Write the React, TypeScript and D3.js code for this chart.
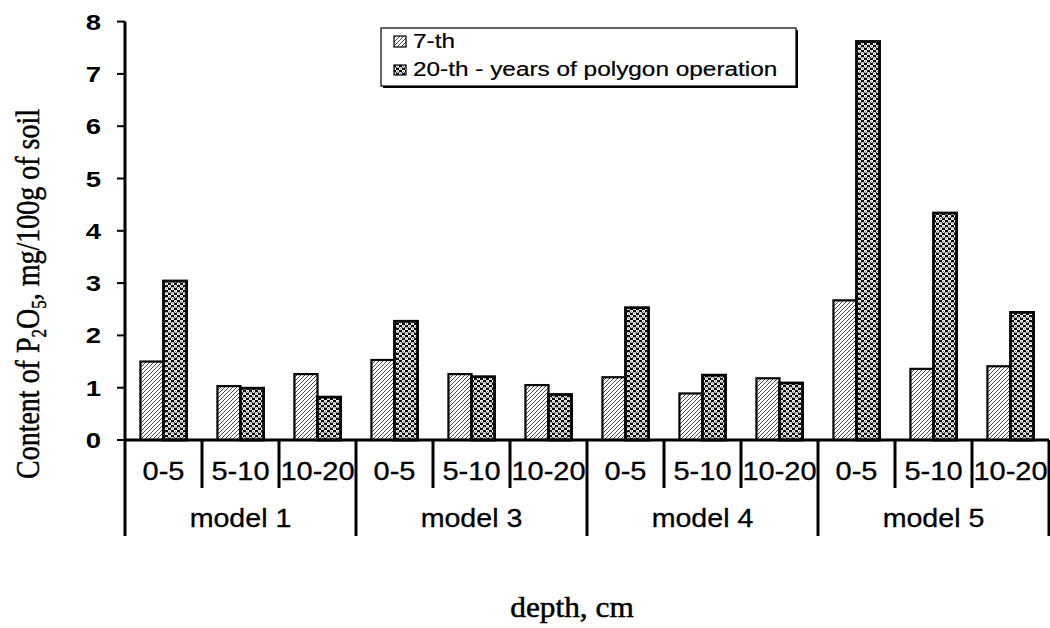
import React from 'react';
import * as d3 from 'd3';

const MODELS = ['model 1', 'model 3', 'model 4', 'model 5'];
const DEPTHS = ['0-5', '5-10', '10-20'];
const SERIES = ['7-th', '20-th - years of polygon operation'];
// values per model, per depth
const YEAR7 = [1.5, 1.03, 1.26, 1.53, 1.26, 1.05, 1.2, 0.89, 1.18, 2.67, 1.36, 1.41];
const YEAR20 = [3.04, 0.99, 0.82, 2.27, 1.21, 0.87, 2.53, 1.24, 1.09, 7.62, 4.34, 2.44];
const Y_TICKS = [0, 1, 2, 3, 4, 5, 6, 7, 8];

const W = 1050;
const H = 628;
const LEFT = 125;
const RIGHT = 1049;
const TOP = 21.6;
const BASE = 440;

const SANS = '"Liberation Sans", Arial, sans-serif';
const SERIF = '"Liberation Serif", "Times New Roman", serif';

const cats = MODELS.flatMap(m => DEPTHS.map(d => m + '|' + d));

const x = d3.scaleBand<string>().domain(cats).range([LEFT, RIGHT]);
const xs = d3.scaleBand<string>().domain(['a', 'b']).range([0, x.bandwidth()]).paddingInner(0).paddingOuter(0.67);
const y = d3.scaleLinear().domain([0, 8]).range([BASE, TOP]);

const rows = cats.map((c, i) => ({ key: c, depth: c.split('|')[1], v7: YEAR7[i], v20: YEAR20[i] }));

const App = () => {
    const modelStart = (m: string) => x(m + '|' + DEPTHS[0])!;
    return (
        <svg width={W} height={H} style={{ position: 'absolute', left: 0, top: 0, background: '#fff' }}>
            <defs>
                <pattern id="hatch" patternUnits="userSpaceOnUse" width="4" height="4">
                    <rect width="4" height="4" fill="#fff" />
                    <path d="M-1,1 l2,-2 M0,4 l4,-4 M3,5 l2,-2" stroke="#333" strokeWidth="0.9" />
                </pattern>
                <pattern id="dots" patternUnits="userSpaceOnUse" width="6" height="5">
                    <rect width="6" height="5" fill="#000" />
                    <circle cx="1.5" cy="1.25" r="1.65" fill="#fff" />
                    <circle cx="4.5" cy="3.75" r="1.65" fill="#fff" />
                    <circle cx="1.5" cy="1.25" r="0.45" fill="#000" />
                    <circle cx="4.5" cy="3.75" r="0.45" fill="#000" />
                </pattern>
            </defs>

            {/* bars */}
            {rows.map(r => (
                <g key={r.key}>
                    <rect x={x(r.key)! + xs('a')!} y={y(r.v7)} width={xs.bandwidth()} height={BASE - y(r.v7)}
                        fill="url(#hatch)" stroke="#000" strokeWidth={2.2} />
                    <rect x={x(r.key)! + xs('b')!} y={y(r.v20)} width={xs.bandwidth()} height={BASE - y(r.v20)}
                        fill="url(#dots)" stroke="#000" strokeWidth={2.8} />
                </g>
            ))}

            {/* y axis */}
            <line x1={LEFT} x2={LEFT} y1={TOP} y2={536} stroke="#000" strokeWidth={3} />
            {Y_TICKS.map(t => (
                <g key={t}>
                    <line x1={LEFT - 8} x2={LEFT} y1={y(t)} y2={y(t)} stroke="#000" strokeWidth={2} />
                    <g transform={`translate(101,${y(t) + 8}) scale(1.25,1)`}>
                        <text textAnchor="end" fontFamily={SANS} fontWeight="bold" fontSize={22}>{t}</text>
                    </g>
                </g>
            ))}

            {/* x axis */}
            <line x1={LEFT} x2={RIGHT} y1={BASE} y2={BASE} stroke="#000" strokeWidth={3} />
            {cats.map((c, i) => i === 0 ? null : (
                <line key={c} x1={x(c)} x2={x(c)} y1={BASE} y2={i % 3 === 0 ? 536 : 488} stroke="#000" strokeWidth={3} />
            ))}
            <line x1={RIGHT} x2={RIGHT} y1={BASE} y2={536} stroke="#000" strokeWidth={3} />
            {rows.map(r => (
                <g key={r.key} transform={`translate(${x(r.key)! + x.bandwidth() / 2},480) scale(1.16,1)`}>
                    <text textAnchor="middle" fontFamily={SANS} fontSize={25} stroke="#000" strokeWidth={0.3}>{r.depth}</text>
                </g>
            ))}
            {MODELS.map(m => (
                <g key={m} transform={`translate(${modelStart(m) + x.bandwidth() * 1.5},527) scale(1.1,1)`}>
                    <text textAnchor="middle" fontFamily={SANS} fontSize={26} stroke="#000" strokeWidth={0.3}>{m}</text>
                </g>
            ))}

            {/* axis titles */}
            <g transform="translate(39,294) scale(1.19,1) rotate(-90)">
                <text textAnchor="middle" fontFamily={SERIF} fontSize={28} stroke="#000" strokeWidth={0.4}>
                    Content of  P<tspan fontSize={17} dy={6}>2</tspan><tspan dy={-6}>O</tspan><tspan fontSize={17} dy={6}>5</tspan><tspan dy={-6}>, mg/100g of soil</tspan>
                </text>
            </g>
            <g transform="translate(572,617) scale(1.08,1)">
                <text textAnchor="middle" fontFamily={SERIF} fontSize={29} stroke="#000" strokeWidth={0.5}>depth, cm</text>
            </g>

            {/* legend */}
            <rect x={383} y={30} width={415} height={58} fill="#000" />
            <rect x={381} y={28} width={415} height={58} fill="#fff" stroke="#000" strokeWidth={1.2} />
            <rect x={394} y={36} width={12} height={11} fill="url(#hatch)" stroke="#000" strokeWidth={1.2} />
            <rect x={394} y={65} width={12} height={10} fill="url(#dots)" stroke="#000" strokeWidth={1.2} />
            {SERIES.map((s, i) => (
                <g key={s} transform={`translate(413,${48 + i * 28}) scale(1.25,1)`}>
                    <text fontFamily={SANS} fontSize={19.5} stroke="#000" strokeWidth={0.2}>{s}</text>
                </g>
            ))}
        </svg>
    );
};

export default App;
